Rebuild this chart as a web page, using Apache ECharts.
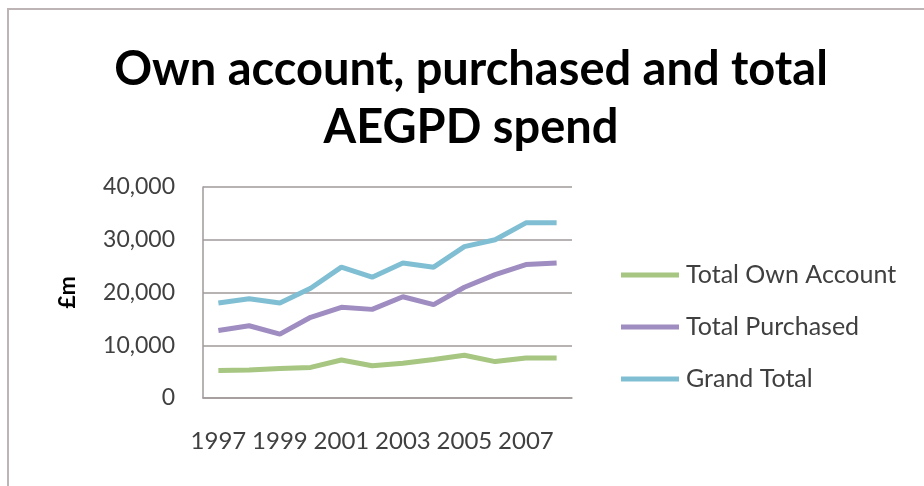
<!DOCTYPE html>
<html>
<head>
<meta charset="utf-8">
<script src="https://cdn.jsdelivr.net/npm/echarts@6/dist/echarts.min.js"></script>
<style>
html,body{margin:0;padding:0;background:#fff;}
#frame{position:absolute;left:7px;top:8px;right:-10px;bottom:-10px;border:2px solid #bdb5b5;}
#chart{position:absolute;left:0;top:0;width:924px;height:486px;}
</style>
</head>
<body>
<div id="frame"></div>
<div id="chart"></div>
<script>
const years = ['1997','1998','1999','2000','2001','2002','2003','2004','2005','2006','2007','2008'];
const ownAccount = [5200,5300,5600,5800,7200,6100,6600,7300,8100,6900,7600,7600];
const purchased = [12800,13700,12100,15300,17200,16800,19200,17700,21000,23400,25300,25600];
const grandTotal = [18000,18800,18000,20800,24800,22900,25600,24800,28700,30000,33200,33200];
const seriesNames = ['Total Own Account','Total Purchased','Grand Total'];
const colors = ['#a6c681','#9f8cc0','#80bfd3'];

const chart = echarts.init(document.getElementById('chart'), null, {renderer:'canvas'});
const font = 'Lato, "Open Sans", sans-serif';
chart.setOption({
  animation:false,
  backgroundColor:'transparent',
  title:{
    text:'Own account, purchased and total\nAEGPD spend',
    left:466, top:36, textAlign:'center',
    textStyle:{fontFamily:font, fontWeight:'bold', fontSize:47, lineHeight:58, color:'#000'}
  },
  grid:{left:203, right:352, top:187, bottom:88, containLabel:false},
  legend:{
    orient:'vertical', left:616, top:257,
    itemWidth:58, itemHeight:5, itemGap:26,
    icon:'rect',
    data:seriesNames,
    textStyle:{fontFamily:font, fontSize:25, color:'#404040', lineHeight:26, padding:[0,0,0,2]}
  },
  xAxis:{
    type:'category', data:years, boundaryGap:true,
    axisLine:{show:true, lineStyle:{color:'#a09a9a', width:1.5}},
    axisTick:{show:false},
    axisLabel:{interval:1, fontFamily:font, fontSize:24, color:'#404040', margin:31},
    splitLine:{show:false}
  },
  yAxis:{
    type:'value', min:0, max:40000, interval:10000,
    name:'£m', nameLocation:'middle', nameGap:124, nameRotate:90,
    nameTextStyle:{fontFamily:font, fontWeight:'bold', fontSize:23, color:'#000'},
    axisLine:{show:true, lineStyle:{color:'#a09a9a', width:1.5}},
    axisTick:{show:false},
    axisLabel:{fontFamily:font, fontSize:23, color:'#404040', margin:28,
      formatter:v=>v.toLocaleString('en-GB')},
    splitLine:{show:true, lineStyle:{color:'#a09a9a', width:1.5}}
  },
  series:[
    {name:seriesNames[0], type:'line', data:ownAccount, color:colors[0], showSymbol:false, symbol:'none', lineStyle:{width:5, color:colors[0]}},
    {name:seriesNames[1], type:'line', data:purchased, color:colors[1], showSymbol:false, symbol:'none', lineStyle:{width:5, color:colors[1]}},
    {name:seriesNames[2], type:'line', data:grandTotal, color:colors[2], showSymbol:false, symbol:'none', lineStyle:{width:5, color:colors[2]}}
  ]
});
</script>
</body>
</html>
